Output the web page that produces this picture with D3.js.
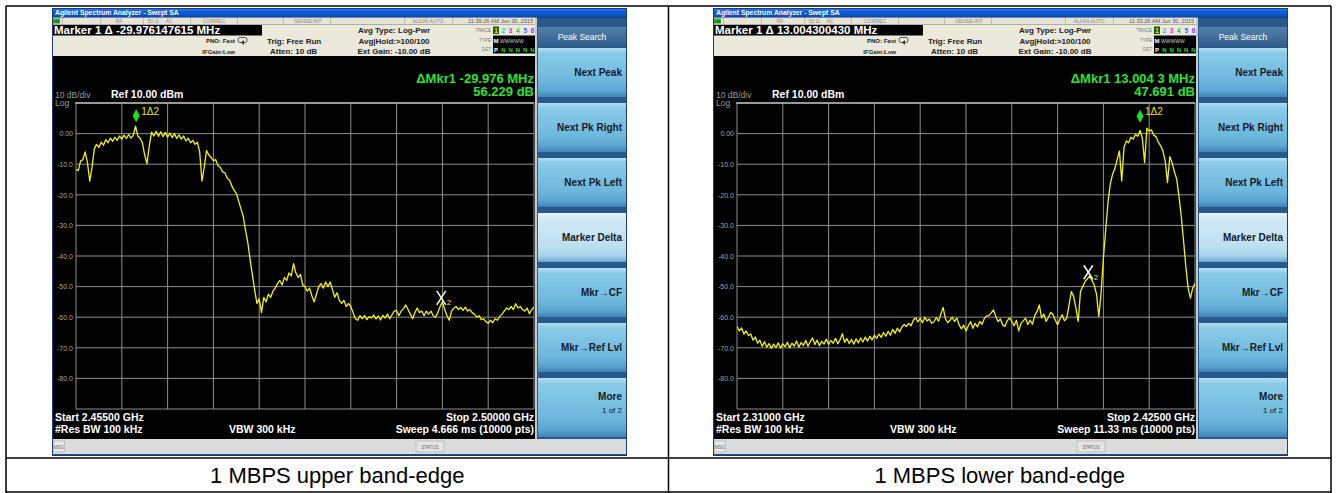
<!DOCTYPE html>
<html>
<head>
<meta charset="utf-8">
<script src="https://cdn.jsdelivr.net/npm/d3@7"></script>
<style>
  html, body { margin: 0; padding: 0; background: #fff; }
  svg { display: block; }
  text { font-family: "Liberation Sans", Arial, sans-serif; }
</style>
</head>
<body>
<svg id="chart" width="1336" height="493"></svg>
<script>
// ---- sweep settings for the two captures ----
const startGHz = [2.455, 2.310];
const stopGHz = [2.500, 2.425];
const startLabels = ["Start 2.45500 GHz", "Start 2.31000 GHz"];
const stopLabels = ["Stop 2.50000 GHz", "Stop 2.42500 GHz"];
const sweepLabels = ["Sweep  4.666 ms (10000 pts)", "Sweep  11.33 ms (10000 pts)"];
const clockLabels = ["11:39:26 AM Jun 30, 2015", "11:33:26 AM Jun 30, 2015"];
const captions = ["1 MBPS upper band-edge", "1 MBPS lower band-edge"];

// ---- delta marker readouts (marker 1 relative to marker 2) ----
const markerDeltaMHz = [-29.976147615, 13.004300430];
const markerDeltaDb = [56.229, 47.691];
const deltaFreqReadout = ["\u0394Mkr1 -29.976 MHz", "\u0394Mkr1 13.004 3 MHz"];
const markerRefGHz = [2.49089, 2.398205];
const markerRefDbm = [-53.7, -45.3];

// ---- amplitude axis ----
const levelTicks = [0, -10, -20, -30, -40, -50, -60, -70, -80];
const levelTickLabels = ["0.00", "-10.0", "-20.0", "-30.0", "-40.0", "-50.0", "-60.0", "-70.0", "-80.0"];

// ---- softkey menu ----
const softkeys = ["Next Peak", "Next Pk Right", "Next Pk Left", "Marker Delta", "Mkr\u2192CF", "Mkr\u2192Ref Lvl", "More"];

// ---- traces (dBm), evenly spaced across the sweep ----
const upperEdgeDbm = [
  -11.8, -12.0, -9.0, -8.5, -6.0, -9.5, -15.5, -11.0, -5.0, -3.5,
  -4.5, -2.8, -3.8, -2.0, -3.0, -1.5, -2.5, -1.2, -2.2, -0.8,
  -1.8, -0.5, -1.6, -0.3, -1.5, -0.6, 2.4, -0.8, -1.5, -3.0,
  -7.0, -9.8, -4.0, 0.5, -0.8, 0.8, -0.9, 0.6, -1.0, 0.4,
  -1.2, 0.2, -1.3, 0.0, -1.6, -0.4, -1.8, -0.8, -2.4, -1.5,
  -3.0, -2.2, -3.5, -2.8, -6.0, -15.5, -11.0, -5.5, -7.0, -7.8,
  -8.8, -8.5, -10.5, -11.0, -12.5, -12.8, -14.5, -15.2, -17.0, -18.5,
  -19.5, -22.0, -24.5, -27.0, -31.5, -35.5, -41.0, -46.0, -51.0, -55.5,
  -54.0, -58.5, -53.5, -55.0, -52.5, -53.5, -51.5, -50.5, -49.0, -48.0,
  -49.5, -47.0, -48.0, -45.5, -46.5, -42.5, -45.5, -47.0, -46.0, -49.5,
  -50.0, -51.5, -50.5, -53.0, -55.0, -52.5, -50.0, -49.0, -50.5, -48.5,
  -50.0, -48.5, -51.0, -53.5, -52.0, -54.5, -55.5, -54.5, -56.5, -55.5,
  -56.5, -58.5, -60.5, -61.0, -59.5, -60.5, -59.5, -60.8, -59.8, -60.2,
  -59.3, -60.6, -59.6, -60.9, -59.4, -60.3, -59.0, -60.5, -59.2, -58.0,
  -57.8, -59.5, -58.0, -57.2, -56.0, -57.5, -59.0, -60.5, -58.5, -57.0,
  -58.5, -58.0, -59.5, -58.0, -59.0, -58.0, -59.5, -60.0, -58.5, -56.5,
  -55.0, -57.5, -59.5, -61.0, -58.0, -57.0, -56.5, -57.5, -56.8, -57.8,
  -56.7, -58.0, -57.5, -58.5, -59.0, -60.0, -59.5, -60.8, -60.5, -61.5,
  -62.0, -61.0, -61.8, -60.5, -61.0, -59.8, -59.0, -58.0, -57.0, -57.5,
  -56.5, -57.5, -55.6, -57.0, -56.5, -57.5, -58.0, -57.0, -58.9, -57.5,
  -56.7
];
const lowerEdgeDbm = [
  -63.0, -64.5, -63.5, -65.5, -64.5, -66.0, -65.5, -67.5, -66.5, -68.5,
  -67.5, -69.5, -68.0, -69.8, -68.6, -70.2, -68.8, -69.9, -68.4, -70.1,
  -68.7, -69.6, -68.2, -70.0, -68.5, -69.4, -67.8, -69.8, -68.3, -69.2,
  -67.6, -69.5, -68.0, -66.8, -68.9, -67.5, -69.3, -67.9, -68.8, -67.2,
  -68.9, -67.6, -68.5, -66.9, -68.7, -67.4, -65.4, -68.2, -67.0, -68.6,
  -67.3, -68.8, -67.1, -68.4, -66.8, -68.1, -66.5, -67.8, -66.2, -67.4,
  -65.9, -66.9, -65.5, -66.6, -65.0, -66.2, -64.6, -65.9, -64.0, -65.3,
  -63.6, -64.8, -63.2, -62.4, -63.0, -62.0, -62.8, -61.0, -60.2, -61.5,
  -60.4, -61.8, -60.0, -61.2, -60.6, -62.0, -61.5, -60.1, -61.3, -59.0,
  -56.8, -60.5, -61.8, -61.0, -60.0, -61.4, -60.3, -62.5, -63.8, -62.6,
  -64.5, -62.8, -61.5, -63.6, -62.0, -63.2, -61.4, -62.3, -60.4, -59.6,
  -59.5, -58.6, -57.6, -59.8, -61.4, -60.6, -62.5, -63.0, -61.2, -60.2,
  -61.4, -62.8, -61.0, -64.5, -62.0, -61.2, -60.3, -62.4, -61.0, -62.3,
  -59.5, -58.2, -56.0, -60.2, -59.0, -61.4, -60.0, -58.4, -59.2, -61.0,
  -62.5, -60.6, -59.2, -61.2, -60.3, -56.0, -51.6, -53.2, -57.0, -61.4,
  -51.5, -50.0, -48.3, -47.5, -46.5, -48.0, -49.5, -52.5, -59.8, -52.0,
  -40.7, -31.5, -22.5, -16.5, -13.3, -11.5, -8.5, -5.7, -15.5, -4.5,
  -2.4, -3.0, -1.2, -1.8, -0.2, -0.9, 1.0, -1.5, -9.5, 1.8,
  0.8, 1.2, -0.6, -1.0, -2.8, -4.0, -5.7, -9.0, -16.0, -7.5,
  -9.5, -12.5, -14.8, -20.5, -27.0, -35.0, -43.5, -50.5, -53.8, -50.5,
  -49.0
];

// ---- screen geometry (local to one analyzer window) ----
const W = 575, H = 448;
const GX0 = 24, GX1 = 482, GY0 = 95, GY1 = 401;
const TITLE_H = 9.5, STATUS_BOT = 16.5;
const BLACK_TOP = 48, BLACK_BOT = 431, KEY_X = 485;

const svg = d3.select("#chart");
const defs = svg.append("defs");

function gradient(id, stops) {
  const lg = defs.append("linearGradient").attr("id", id)
    .attr("x1", 0).attr("y1", 0).attr("x2", 0).attr("y2", 1);
  stops.forEach(([o, c]) => lg.append("stop").attr("offset", o).attr("stop-color", c));
}
gradient("titleGrad", [[0, "#3a86ee"], [0.35, "#0f5fdc"], [1, "#0a48b8"]]);
gradient("keyGrad", [[0, "#b5e0f3"], [0.1, "#8acbe8"], [0.7, "#6cb6dc"], [0.88, "#5aa3cf"], [1, "#3f82b6"]]);
gradient("keyGradOn", [[0, "#e8f5fb"], [0.1, "#d2ebf6"], [0.7, "#bcdfef"], [0.88, "#a6d1e8"], [1, "#6aa7cf"]]);
gradient("headGrad", [[0, "#5580ab"], [1, "#2f5d8d"]]);

function txt(g, x, y, s, o = {}) {
  return g.append("text")
    .attr("x", x).attr("y", y)
    .attr("font-size", o.size || 8)
    .attr("font-weight", o.weight || "normal")
    .attr("fill", o.fill || "#000")
    .attr("text-anchor", o.anchor || "start")
    .text(s);
}

function drawAnalyzer(i, ox, levels) {
  const g = svg.append("g").attr("transform", `translate(${ox},8)`);
  const n = levels.length;
  const freqs = levels.map((_, k) => startGHz[i] + k * (stopGHz[i] - startGHz[i]) / (n - 1));
  const x = d3.scaleLinear().domain([startGHz[i], stopGHz[i]]).range([GX0, GX1]);
  const y = d3.scaleLinear().domain([-90, 10]).range([GY1, GY0]);

  // window body
  g.append("rect").attr("width", W).attr("height", H).attr("fill", "#000");

  // title bar
  g.append("rect").attr("width", W).attr("height", TITLE_H).attr("fill", "url(#titleGrad)");
  txt(g, 3, 7.3, "Agilent Spectrum Analyzer - Swept SA", { size: 6.8, weight: "bold", fill: "#fff" });

  // status strip
  g.append("rect").attr("y", TITLE_H).attr("width", KEY_X - 2).attr("height", STATUS_BOT - TITLE_H).attr("fill", "#e6e3d7");
  g.append("rect").attr("x", 1).attr("y", TITLE_H + 1).attr("width", 7).attr("height", 5).attr("fill", "#25b825");
  txt(g, 1.5, TITLE_H + 5.2, "LXI", { size: 3.5, weight: "bold", fill: "#053" });
  [10, 48, 91, 138, 185, 231, 278, 352, 400].forEach(sx =>
    g.append("rect").attr("x", sx).attr("y", TITLE_H + 0.5).attr("width", 0.8).attr("height", 6).attr("fill", "#b4b0a4"));
  const statusItems = [["RF", 67], ["50 \u03a9", 101], ["AC", 117], ["CORREC", 162], ["SENSE:INT", 256], ["ALIGN AUTO", 376]];
  statusItems.forEach(([s, sx]) => txt(g, sx, TITLE_H + 5.3, s, { size: 5.2, fill: "#8a8a8a", anchor: "middle" }));
  txt(g, 481, TITLE_H + 5.4, clockLabels[i], { size: 5.6, fill: "#555", anchor: "end" });

  // measurement info rows
  g.append("rect").attr("y", STATUS_BOT).attr("width", KEY_X - 2).attr("height", BLACK_TOP - STATUS_BOT).attr("fill", "#ebe9dc");
  g.append("rect").attr("y", STATUS_BOT + 0.5).attr("width", 210).attr("height", 10.5).attr("fill", "#000");
  txt(g, 2, 26.2, `Marker 1 \u0394 ${markerDeltaMHz[i].toFixed(9)} MHz`, { size: 11.5, weight: "bold", fill: "#fff" });
  txt(g, 183, 35, "PNO: Fast", { size: 6, weight: "bold", fill: "#222", anchor: "end" });
  txt(g, 183, 45.5, "IFGain:Low", { size: 6, weight: "bold", fill: "#222", anchor: "end" });
  g.append("rect").attr("x", 186).attr("y", 29.5).attr("width", 9).attr("height", 5).attr("rx", 2)
    .attr("fill", "none").attr("stroke", "#333").attr("stroke-width", 0.8);
  g.append("path").attr("d", "M189,34.5 L192,32 L192,37 Z").attr("fill", "#333");
  txt(g, 215, 35.5, "Trig: Free Run", { size: 8, weight: "bold", fill: "#222" });
  txt(g, 218, 46, "Atten: 10 dB", { size: 8, weight: "bold", fill: "#222" });
  txt(g, 342, 25, "Avg Type: Log-Pwr", { size: 8, weight: "bold", fill: "#222", anchor: "middle" });
  txt(g, 342, 35.5, "Avg|Hold:>100/100", { size: 8, weight: "bold", fill: "#222", anchor: "middle" });
  txt(g, 342, 46, "Ext Gain: -10.00 dB", { size: 8, weight: "bold", fill: "#222", anchor: "middle" });

  // trace status block
  txt(g, 439, 24, "TRACE", { size: 4.6, fill: "#777", anchor: "end" });
  txt(g, 439, 33.5, "TYPE", { size: 4.6, fill: "#777", anchor: "end" });
  txt(g, 439, 43, "DET", { size: 4.6, fill: "#777", anchor: "end" });
  g.append("rect").attr("x", 441).attr("y", 27.5).attr("width", 42).attr("height", 18).attr("fill", "#000");
  const traceColors = ["#e8e800", "#22c8c8", "#d030d0", "#30c030", "#4060ff", "#8a30ff"];
  g.append("rect").attr("x", 441).attr("y", 18.5).attr("width", 6).attr("height", 7.5).attr("fill", "#1d5a10");
  traceColors.forEach((c, k) => txt(g, 444 + k * 7.3, 24.8, String(k + 1), { size: 6.5, weight: "bold", fill: c, anchor: "middle" }));
  txt(g, 444, 34.5, "M", { size: 6, weight: "bold", fill: "#fff", anchor: "middle" });
  txt(g, 448, 34.5, "WWWWW", { size: 5, fill: "#ccc" });
  txt(g, 444, 43.5, "P", { size: 6, weight: "bold", fill: "#fff", anchor: "middle" });
  [1, 2, 3, 4, 5].forEach(k => txt(g, 444 + k * 7.3, 43.5, "N", { size: 6, weight: "bold", fill: "#30d030", anchor: "middle" }));

  // delta readout
  txt(g, GX1, 75, deltaFreqReadout[i], { size: 13, weight: "bold", fill: "#2fe02f", anchor: "end" });
  txt(g, GX1, 88, `${markerDeltaDb[i].toFixed(3)} dB`, { size: 13, weight: "bold", fill: "#2fe02f", anchor: "end" });

  // scale annotations
  txt(g, 3, 90, "10 dB/div", { size: 8.5, fill: "#9a9a9a" });
  txt(g, 3, 97.5, "Log", { size: 8.5, fill: "#9a9a9a" });
  txt(g, 59, 90, "Ref 10.00 dBm", { size: 10.5, weight: "bold", fill: "#fff" });

  // graticule
  const grid = g.append("g").attr("stroke", "#8e8e8e").attr("stroke-width", 1);
  d3.range(11).forEach(k => {
    const fx = x(startGHz[i] + k * (stopGHz[i] - startGHz[i]) / 10);
    grid.append("line").attr("x1", fx).attr("x2", fx).attr("y1", GY0).attr("y2", GY1);
  });
  d3.range(11).forEach(k => {
    const ly = y(10 - k * 10);
    grid.append("line").attr("x1", GX0).attr("x2", GX1).attr("y1", ly).attr("y2", ly);
  });
  g.append("line").attr("x1", GX0 - 1).attr("x2", GX1).attr("y1", GY0).attr("y2", GY0)
    .attr("stroke", "#b4b4b4").attr("stroke-width", 1.6);

  // amplitude labels
  const axis = d3.axisLeft(y).tickValues(levelTicks)
    .tickFormat((d, k) => levelTickLabels[k]).tickSize(0).tickPadding(3);
  const ag = g.append("g").attr("transform", `translate(${GX0},0)`).call(axis);
  ag.select(".domain").remove();
  ag.selectAll("text").attr("fill", "#a4a4a4").attr("font-size", 7)
    .attr("font-family", "'Liberation Sans', Arial, sans-serif");

  // trace
  const clipId = `clip${i}`;
  defs.append("clipPath").attr("id", clipId).append("rect")
    .attr("x", GX0).attr("y", GY0 - 2).attr("width", GX1 - GX0).attr("height", GY1 - GY0 + 2);
  const line = d3.line().x((d, k) => x(freqs[k])).y(d => y(d));
  g.append("path").datum(levels).attr("d", line).attr("clip-path", `url(#${clipId})`)
    .attr("fill", "none").attr("stroke", "#f4f400").attr("stroke-width", 1.3).attr("stroke-linejoin", "round");

  // markers: 2 is the reference, 1 is offset by the delta readout
  const m2x = x(markerRefGHz[i]), m2y = y(markerRefDbm[i]);
  const m1x = x(markerRefGHz[i] + markerDeltaMHz[i] / 1000), m1y = y(markerRefDbm[i] + markerDeltaDb[i]);
  g.append("path").attr("d", `M${m1x},${m1y - 16.5} L${m1x + 3.5},${m1y - 10} L${m1x},${m1y - 3.5} L${m1x - 3.5},${m1y - 10} Z`)
    .attr("fill", "#1ee01e");
  txt(g, m1x + 5, m1y - 11, "1\u03942", { size: 10, fill: "#e8e800" });
  const xm = g.append("g").attr("stroke", "#f2f2f2").attr("stroke-width", 1.6);
  xm.append("line").attr("x1", m2x - 4.5).attr("y1", m2y - 7).attr("x2", m2x + 4.5).attr("y2", m2y + 7);
  xm.append("line").attr("x1", m2x + 4.5).attr("y1", m2y - 7).attr("x2", m2x - 4.5).attr("y2", m2y + 7);
  txt(g, m2x + 5.5, m2y + 7.5, "2", { size: 8, fill: "#e8e800" });

  // sweep annotations
  txt(g, 3, 412.5, startLabels[i], { size: 10.5, weight: "bold", fill: "#fff" });
  txt(g, 3, 425, "#Res BW 100 kHz", { size: 10.5, weight: "bold", fill: "#fff" });
  txt(g, 177, 425, "VBW 300 kHz", { size: 10.5, weight: "bold", fill: "#fff" });
  txt(g, GX1, 412.5, stopLabels[i], { size: 10.5, weight: "bold", fill: "#fff", anchor: "end" });
  txt(g, GX1, 425, sweepLabels[i], { size: 10.5, weight: "bold", fill: "#fff", anchor: "end" });

  // divider between display and menu
  g.append("rect").attr("x", KEY_X - 2).attr("y", TITLE_H).attr("width", 2).attr("height", BLACK_BOT - TITLE_H).attr("fill", "#c9c9c9");

  // softkey menu
  g.append("rect").attr("x", KEY_X).attr("y", TITLE_H).attr("width", W - KEY_X).attr("height", BLACK_BOT - TITLE_H).attr("fill", "#27598c");
  g.append("rect").attr("x", KEY_X + 1).attr("y", 19).attr("width", W - KEY_X - 2).attr("height", 20).attr("fill", "url(#headGrad)");
  txt(g, KEY_X + 45, 32, "Peak Search", { size: 8.5, fill: "#fff", anchor: "middle" });
  softkeys.forEach((s, k) => {
    const top = 40 + k * 55;
    const h = k === 6 ? 59 : 49;
    g.append("rect").attr("x", KEY_X + 1).attr("y", top).attr("width", W - KEY_X - 2).attr("height", h)
      .attr("fill", k === 3 ? "url(#keyGradOn)" : "url(#keyGrad)");
    if (k === 6) {
      txt(g, W - 5, top + 22, s, { size: 10, weight: "bold", fill: "#111a2c", anchor: "end" });
      txt(g, W - 5, top + 35, "1 of 2", { size: 8, fill: "#111a2c", anchor: "end" });
    } else {
      txt(g, W - 5, top + 28, s, { size: 10, weight: "bold", fill: "#111a2c", anchor: "end" });
    }
  });

  // message bar
  g.append("rect").attr("y", BLACK_BOT).attr("width", W).attr("height", 15).attr("fill", "#dcdcdc");
  g.append("rect").attr("x", 1.5).attr("y", BLACK_BOT + 2).attr("width", 11).attr("height", 11)
    .attr("fill", "#e8e8e8").attr("stroke", "#aaa").attr("stroke-width", 0.6);
  txt(g, 7, BLACK_BOT + 9.5, "MSG", { size: 4.5, fill: "#666", anchor: "middle" });
  g.append("rect").attr("x", 364).attr("y", BLACK_BOT + 2).attr("width", 28).attr("height", 11)
    .attr("fill", "#e4e4e4").attr("stroke", "#aaa").attr("stroke-width", 0.6);
  txt(g, 378, BLACK_BOT + 9.5, "STATUS", { size: 4.5, fill: "#666", anchor: "middle" });
  g.append("rect").attr("y", BLACK_BOT + 15).attr("width", W).attr("height", H - BLACK_BOT - 15).attr("fill", "#234c8a");

  // window outline
  g.append("rect").attr("x", 0.5).attr("y", 0.5).attr("width", W - 1).attr("height", H - 1)
    .attr("fill", "none").attr("stroke", "#1b3e7a").attr("stroke-width", 1);
}

drawAnalyzer(0, 52, upperEdgeDbm);
drawAnalyzer(1, 713, lowerEdgeDbm);

// ---- surrounding table ----
const tbl = svg.append("g").attr("stroke", "#000").attr("stroke-width", 1.5).attr("fill", "none");
tbl.append("line").attr("x1", 6).attr("x2", 1331).attr("y1", 6).attr("y2", 6);
tbl.append("line").attr("x1", 6).attr("x2", 1331).attr("y1", 458).attr("y2", 458);
tbl.append("line").attr("x1", 6).attr("x2", 1331).attr("y1", 492).attr("y2", 492);
[6, 668.5, 1331].forEach(tx => tbl.append("line").attr("x1", tx).attr("x2", tx).attr("y1", 6).attr("y2", 493));

const cellCenters = [(6 + 668.5) / 2, (668.5 + 1331) / 2];
captions.forEach((c, k) => {
  svg.append("text").attr("x", cellCenters[k]).attr("y", 483)
    .attr("text-anchor", "middle").attr("font-size", 22).attr("fill", "#000").text(c);
});
</script>
</body>
</html>
